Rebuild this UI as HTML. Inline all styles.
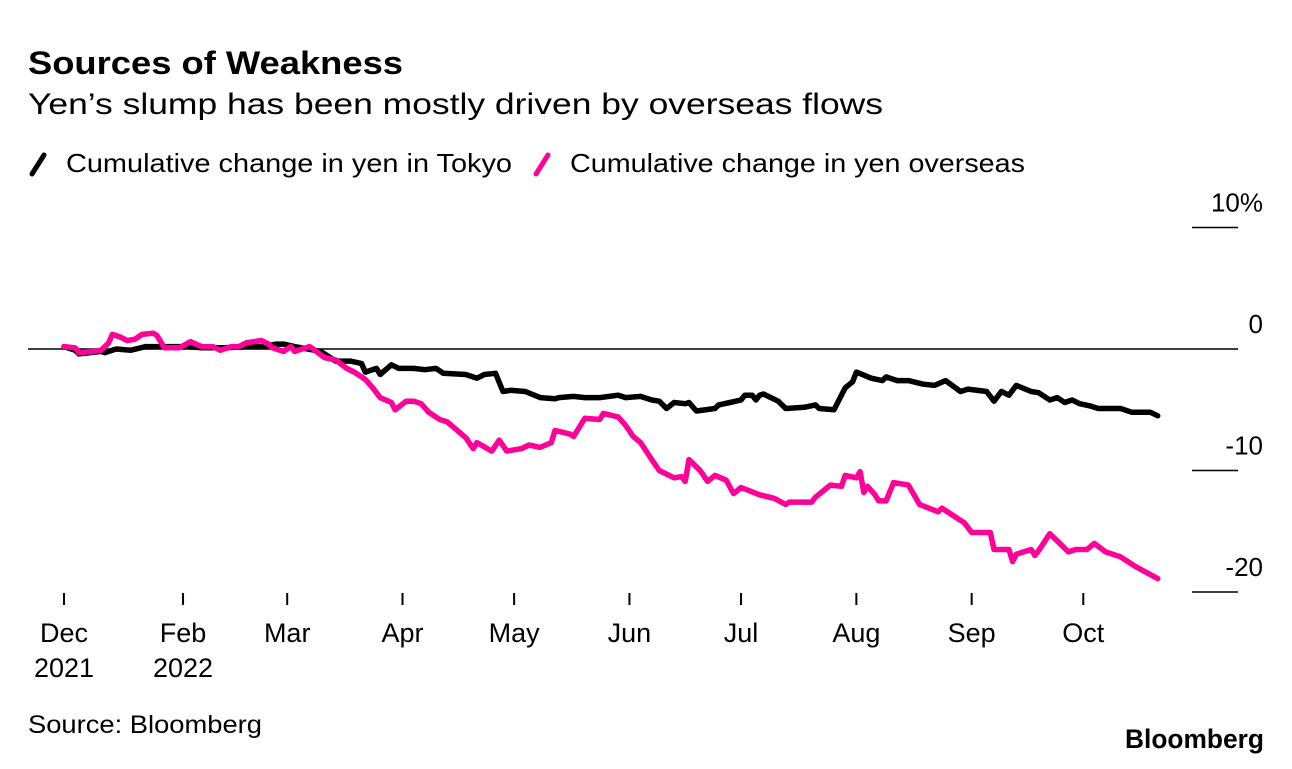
<!DOCTYPE html>
<html><head><meta charset="utf-8"><style>
body{margin:0;background:#fff;font-family:"Liberation Sans",sans-serif;}
svg text{font-family:"Liberation Sans",sans-serif;}
</style></head><body>
<svg id="chart" width="1292" height="764">
<text x="28" y="74" font-size="32" font-weight="bold" fill="#000" textLength="375" lengthAdjust="spacingAndGlyphs">Sources of Weakness</text>
<text x="28" y="114" font-size="30" fill="#000" textLength="855" lengthAdjust="spacingAndGlyphs">Yen’s slump has been mostly driven by overseas flows</text>
<g>
<line x1="32" y1="174" x2="44" y2="155" stroke="#000" stroke-width="5" stroke-linecap="round"/>
<text x="66" y="172" font-size="26" textLength="446" lengthAdjust="spacingAndGlyphs">Cumulative change in yen in Tokyo</text>
<line x1="536" y1="174" x2="548" y2="155" stroke="#ff0099" stroke-width="5" stroke-linecap="round"/>
<text x="570" y="172" font-size="26" textLength="455" lengthAdjust="spacingAndGlyphs">Cumulative change in yen overseas</text>
</g>
<g id="grid"></g><g id="xaxis"></g><g id="series"></g>
<text x="28" y="733" font-size="25" textLength="234" lengthAdjust="spacingAndGlyphs">Source: Bloomberg</text>
<text x="1264" y="748" font-size="27" font-weight="bold" text-anchor="end" textLength="139" lengthAdjust="spacingAndGlyphs">Bloomberg</text>
</svg>
<script>
const yTicks=[10,0,-10,-20];
const yTickLabels=["10%","0","-10","-20"];
const monthDays=[0,32,60,91,121,152,182,213,244,274];
const monthLabels=["Dec","Feb","Mar","Apr","May","Jun","Jul","Aug","Sep","Oct"];
const yearLabels=["2021","2022","","","","","","","",""];
const tokyoDays=[0,3,4,10,11,14,18,22,27,33,37,43,50,54,57,59,62,69,73,77,80,81,84,85,88,90,94,97,100,102,108,111,113,116,118,120,124,128,132,133,137,140,144,149,151,155,158,160,162,164,167,168,170,175,176,179,182,183,185,186,187,188,192,194,199,202,203,207,210,212,213,217,220,221,224,227,231,234,237,241,243,248,250,252,254,256,260,262,265,267,269,271,273,276,278,284,287,292,294];
const tokyoValues=[0.2,-0.1,-0.4,-0.2,-0.3,0,-0.1,0.2,0.2,0.2,0.1,0.1,0.2,0.2,0.4,0.4,0.2,-0.2,-1.0,-1.0,-1.2,-1.9,-1.6,-2.1,-1.3,-1.6,-1.6,-1.7,-1.6,-2.0,-2.1,-2.4,-2.1,-2.0,-3.5,-3.4,-3.5,-4.0,-4.1,-4.0,-3.9,-4.0,-4.0,-3.8,-4.0,-3.9,-4.2,-4.3,-4.9,-4.4,-4.5,-4.4,-5.1,-4.9,-4.6,-4.4,-4.2,-3.8,-3.8,-4.2,-3.8,-3.7,-4.3,-4.9,-4.8,-4.6,-4.9,-5.0,-3.2,-2.7,-1.9,-2.4,-2.6,-2.3,-2.6,-2.6,-2.9,-3.0,-2.6,-3.5,-3.3,-3.5,-4.3,-3.5,-3.8,-3.0,-3.5,-3.6,-4.2,-4.0,-4.4,-4.2,-4.5,-4.7,-4.9,-4.9,-5.2,-5.2,-5.5];
const overseasDays=[0,3,4,8,10,12,13,15,17,19,21,24,25,27,31,34,37,40,42,45,47,49,53,55,56,59,61,62,66,67,70,73,76,78,81,83,85,88,89,92,94,96,98,101,103,108,110,111,115,117,119,123,125,128,131,132,136,137,140,144,145,149,151,153,155,158,160,164,166,167,168,171,173,175,178,180,182,187,191,194,195,201,202,206,209,210,213,214,215,216,218,219,221,223,227,230,235,236,237,240,242,244,249,250,254,255,256,260,261,262,265,268,270,272,275,277,280,284,288,294];
const overseasValues=[0.2,0.1,-0.3,-0.2,-0.1,0.5,1.2,1.0,0.7,0.8,1.2,1.3,1.1,0.1,0.1,0.6,0.2,0.2,-0.1,0.2,0.2,0.5,0.7,0.4,0.1,-0.2,0.2,-0.2,0.2,0,-0.7,-0.9,-1.6,-1.9,-2.5,-3.2,-4.0,-4.4,-5.0,-4.3,-4.3,-4.5,-5.2,-5.8,-6.0,-7.3,-8.2,-7.7,-8.4,-7.5,-8.4,-8.2,-7.9,-8.1,-7.7,-6.7,-7.0,-7.2,-5.7,-5.8,-5.3,-5.6,-6.3,-7.2,-7.7,-9.1,-10.0,-10.6,-10.5,-10.9,-9.1,-10.0,-10.9,-10.4,-10.8,-11.9,-11.4,-12.0,-12.3,-12.8,-12.6,-12.6,-12.2,-11.2,-11.3,-10.4,-10.6,-10.1,-11.8,-11.3,-12.0,-12.5,-12.5,-11.0,-11.2,-12.8,-13.4,-13.1,-13.3,-13.9,-14.3,-15.1,-15.1,-16.5,-16.5,-17.5,-16.9,-16.5,-17.0,-16.6,-15.2,-16.1,-16.7,-16.5,-16.5,-16.0,-16.7,-17.1,-17.9,-18.9];

const NS="http://www.w3.org/2000/svg";
function xScale(d){return 64+d*3.72;}
function yScale(v){return 349-v*12.15;}
function mk(tag,attrs,parent){const e=document.createElementNS(NS,tag);for(const k in attrs)e.setAttribute(k,attrs[k]);parent.appendChild(e);return e;}
const grid=document.getElementById('grid');
yTicks.forEach((t,i)=>{
  const y=yScale(t);
  const ln=mk('line',{x1:t===0?28:1192,x2:1238,y1:y,y2:y,stroke:'#000','stroke-width':1.5},grid);
  
  
  const tx=mk('text',{x:1263,y:y-16,'font-size':26,'text-anchor':'end'},grid);
  tx.textContent=yTickLabels[i];
  
  
});
const xa=document.getElementById('xaxis');
monthDays.forEach((d,i)=>{
  const x=xScale(d);
  const tk=mk('line',{x1:x,x2:x,y1:593,y2:605,stroke:'#000','stroke-width':2},xa);
  
  
  const tx=mk('text',{x:x,y:642,'font-size':27,'text-anchor':'middle'},xa);
  tx.textContent=monthLabels[i];
  
  
  if(yearLabels[i]){
    const yr=mk('text',{x:x,y:677,'font-size':27,'text-anchor':'middle'},xa);
    yr.textContent=yearLabels[i];
    
    
  }
});
const sg=document.getElementById('series');
function line(days,vals,color,name){
  const pts=days.map((d,i)=>xScale(d).toFixed(1)+','+yScale(vals[i]).toFixed(1)).join(' ');
  const p=mk('polyline',{points:pts,fill:'none',stroke:color,'stroke-width':5.5,'stroke-linejoin':'round','stroke-linecap':'round'},sg);
  
  
}
line(tokyoDays,tokyoValues,'#000','tokyo-line');
line(overseasDays,overseasValues,'#ff0099','overseas-line');
</script>
</body></html>
